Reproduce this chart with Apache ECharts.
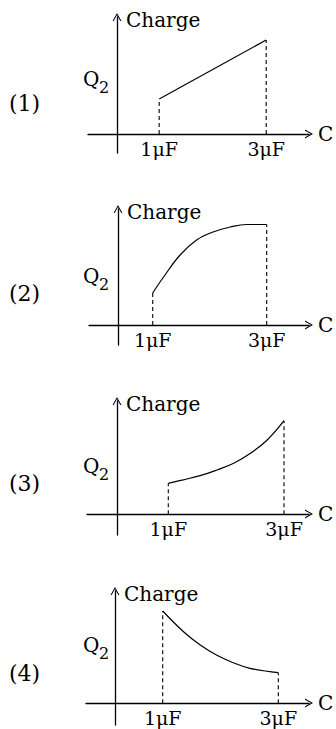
<!DOCTYPE html>
<html>
<head>
<meta charset="utf-8">
<script src="https://cdn.jsdelivr.net/npm/echarts@6/dist/echarts.min.js"></script>
<style>
    html, body { margin: 0; padding: 0; background: #fff; }
    #chart { width: 336px; height: 729px; }
</style>
</head>
<body>
<div id="chart"></div>
<script>
// tick values on the C axis and their labels
const tickValues = [1, 3]
const tickLabels = ['1μF', '3μF']
const panelNames = ['(1)', '(2)', '(3)', '(4)']

// charge curves, C in μF, Q in arbitrary units
const curve1C = [1, 3]
const curve1Q = [3.5, 9.4]
const curve2C = [1, 1.19, 1.48, 1.77, 2.06, 2.36, 2.65, 3]
const curve2Q = [3.2, 4.8, 7.0, 8.5, 9.3, 9.8, 10.05, 10.05]
const curve3C = [1, 1.26, 1.55, 1.84, 2.13, 2.42, 2.71, 3]
const curve3Q = [3.1, 3.45, 3.86, 4.43, 5.1, 6.1, 7.43, 9.36]
const curve4C = [1, 1.36, 1.65, 1.93, 2.22, 2.51, 3]
const curve4Q = [9.23, 7.16, 5.83, 4.83, 4.06, 3.5, 3.06]

const curves = [
    [curve1C, curve1Q, false],
    [curve2C, curve2Q, true],
    [curve3C, curve3Q, true],
    [curve4C, curve4Q, true]
]

// layout of each small plot (pixels) and its axis ranges
const layout = [
    {left: 88, top: 17, height: 136, xMin: -0.33, xMax: 3.8, yMin: -1.9, yMax: 11.7, xOffset: -19, yOffset: -29, qY: 79, numY: 103},
    {left: 89, top: 209, height: 136, xMin: -0.118, xMax: 3.742, yMin: -2.0, yMax: 11.6, xOffset: -20, yOffset: -29, qY: 276, numY: 293},
    {left: 87, top: 401, height: 134, xMin: -0.405, xMax: 3.432, yMin: -2.07, yMax: 11.33, xOffset: -21, yOffset: -30, qY: 466, numY: 483},
    {left: 86, top: 591, height: 134, xMin: -0.327, xMax: 3.531, yMin: -2.17, yMax: 11.23, xOffset: -22, yOffset: -29, qY: 645, numY: 673}
]

const FONT = 'DejaVu Serif'
const INK = '#000'
// thin open arrow head, tip pointing up
const ARROW = 'path://M5,0 L10,9 L8.7,9 L5,2.3 L1.3,9 L0,9 Z'

const axisLine = function () {
    return {
        show: true,
        onZero: false,
        symbol: ['none', ARROW],
        symbolSize: [9, 8],
        lineStyle: {color: INK, width: 1.3}
    }
}

let grids = []
let xAxes = []
let yAxes = []
let series = []
let graphics = []

layout.forEach((p, i) => {
    grids.push({left: p.left, right: 27, top: p.top, height: p.height, containLabel: false})
    xAxes.push({
        type: 'value',
        gridIndex: i,
        min: p.xMin,
        max: p.xMax,
        offset: p.xOffset,
        name: 'C',
        nameLocation: 'end',
        nameGap: 9,
        nameTextStyle: {fontFamily: FONT, fontSize: 20, color: INK, verticalAlign: 'middle', padding: [0, 0, 4, 0]},
        axisLine: axisLine(),
        axisTick: {show: false},
        splitLine: {show: false},
        axisLabel: {
            customValues: tickValues,
            margin: 5,
            fontFamily: FONT,
            fontSize: 19,
            color: INK,
            formatter: function (v) {
                let k = tickValues.indexOf(v)
                return k >= 0 ? tickLabels[k] : ''
            }
        }
    })
    yAxes.push({
        type: 'value',
        gridIndex: i,
        min: p.yMin,
        max: p.yMax,
        offset: p.yOffset,
        name: 'Charge',
        nameLocation: 'end',
        nameGap: 7,
        nameTextStyle: {fontFamily: FONT, fontSize: 20, color: INK, align: 'left', verticalAlign: 'top', padding: [0, 0, 0, 9]},
        axisLine: axisLine(),
        axisTick: {show: false},
        axisLabel: {show: false},
        splitLine: {show: false}
    })

    let c = curves[i][0]
    let q = curves[i][1]
    let n = c.length - 1
    series.push({
        type: 'line',
        xAxisIndex: i,
        yAxisIndex: i,
        data: c.map((v, k) => [v, q[k]]),
        smooth: curves[i][2] ? 0.4 : false,
        symbol: 'none',
        lineStyle: {color: INK, width: 1.2}
    })
    // dashed drop lines at both ends of the curve
    ;[[c[0], q[0]], [c[n], q[n]]].forEach(pt => {
        series.push({
            type: 'line',
            xAxisIndex: i,
            yAxisIndex: i,
            data: [[pt[0], 0], pt],
            symbol: 'none',
            lineStyle: {color: INK, width: 1.1, type: [4, 3]}
        })
    })

    // Q2 label and panel number
    graphics.push({
        type: 'text', x: 83, y: p.qY,
        style: {text: 'Q', font: '20px "' + FONT + '"', fill: INK, textAlign: 'left', textVerticalAlign: 'middle'}
    })
    graphics.push({
        type: 'text', x: 99, y: p.qY + 8,
        style: {text: '2', font: '16px "' + FONT + '"', fill: INK, textAlign: 'left', textVerticalAlign: 'middle'}
    })
    graphics.push({
        type: 'text', x: 9, y: p.numY,
        style: {text: panelNames[i], font: '22px "' + FONT + '"', fill: INK, textAlign: 'left', textVerticalAlign: 'middle'}
    })
})

const chart = echarts.init(document.getElementById('chart'), null, {renderer: 'svg'})
chart.setOption({
    animation: false,
    backgroundColor: '#fff',
    grid: grids,
    xAxis: xAxes,
    yAxis: yAxes,
    series: series,
    graphic: graphics
})
</script>
</body>
</html>
